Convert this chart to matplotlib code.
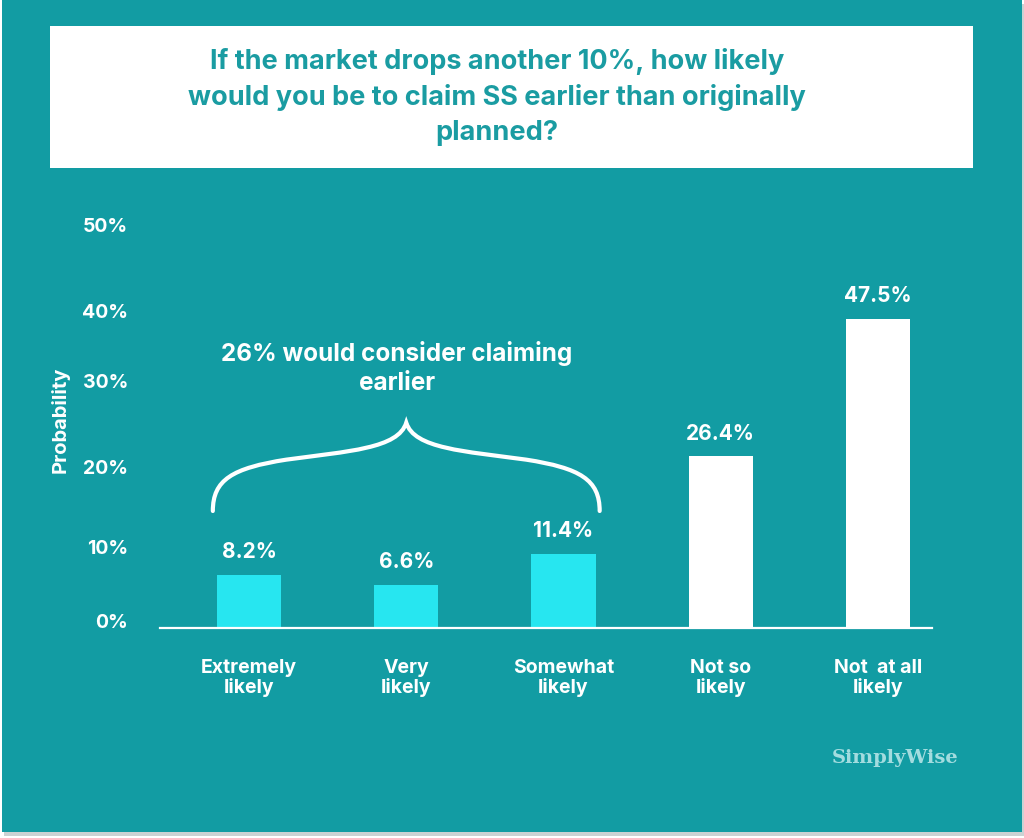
import matplotlib
matplotlib.use("Agg")
import matplotlib.pyplot as plt
from matplotlib.patches import Rectangle, PathPatch
from matplotlib.path import Path

# ---------------- data ----------------
categories = ["Extremely\nlikely", "Very\nlikely", "Somewhat\nlikely", "Not so\nlikely", "Not  at all\nlikely"]
values = [8.2, 6.6, 11.4, 26.4, 47.5]
value_labels = ["8.2%", "6.6%", "11.4%", "26.4%", "47.5%"]
bar_colors = ["#27E6F0", "#27E6F0", "#27E6F0", "#FFFFFF", "#FFFFFF"]
tick_labels = ["0%", "10%", "20%", "30%", "40%", "50%"]
tick_positions = [1.1, 12.5, 24.8, 38.0, 48.8, 62.0]   # where the labels sit in the picture
title = "If the market drops another 10%, how likely\nwould you be to claim SS earlier than originally\nplanned?"
brace_text = "26% would consider claiming\nearlier"

TEAL = "#129CA3"
TITLE_COL = "#1A9CA2"
W, H = 1024, 838

plt.rcParams['font.family'] = ['Inter', 'DejaVu Sans']
fig = plt.figure(figsize=(W / 100, H / 100), dpi=100, facecolor="white")

# background panel with slight shadow
fig.patches.append(Rectangle((4 / W, 1 - 836 / H), 1020 / W, 832 / H, transform=fig.transFigure,
                             facecolor="#9aa7a8", edgecolor="none", alpha=0.5, zorder=-3))
fig.patches.append(Rectangle((2 / W, 1 - 832 / H), 1020 / W, 832 / H, transform=fig.transFigure,
                             facecolor=TEAL, edgecolor="none", zorder=-2))

# axes placement (pixels)
x0, x1 = 160, 932
y_base, y_top = 628, 200
ax = fig.add_axes([x0 / W, 1 - y_base / H, (x1 - x0) / W, (y_base - y_top) / H])
ax.set_facecolor("none")
spacing = 157.25
ax.set_xlim(-(249 - x0) / spacing, 4 + (x1 - 878) / spacing)
ppp = 6.5  # pixels per percent
ax.set_ylim(0, (y_base - y_top) / ppp)

xs = list(range(len(values)))
ax.bar(xs, values, width=0.41, color=bar_colors, zorder=2)
for x, v, lab in zip(xs, values, value_labels):
    ax.text(x, v + 3.5, lab, ha="center", va="center", color="white",
            fontsize=15, fontweight="bold")

for s in ["top", "right", "left"]:
    ax.spines[s].set_visible(False)
ax.spines["bottom"].set_color("white")
ax.spines["bottom"].set_linewidth(1.6)
ax.set_yticks(tick_positions)
ax.set_yticklabels(tick_labels)
ax.tick_params(axis="y", length=0, pad=23, labelcolor="white", labelsize=14)
for t in ax.get_yticklabels():
    t.set_fontweight("bold")
ax.set_xticks(xs)
ax.set_xticklabels(categories, linespacing=1.1)
ax.tick_params(axis="x", length=0, pad=22, labelcolor="white", labelsize=14)
for t in ax.get_xticklabels():
    t.set_fontweight("bold")
ax.set_ylabel("Probability", color="white", fontsize=14.5, fontweight="bold", labelpad=0)
ax.yaxis.set_label_coords((70 - x0) / (x1 - x0), (y_base - 420) / (y_base - y_top))

# curly brace over the first three bars
xl, xr = -0.23, 2.23
xm = (xl + xr) / 2
yb, yt = 18.0, 31.6
hw = (xr - xl) / 2
def bl(f):
    return xl + f * hw
def br(f):
    return xr - f * hw
verts = [
    (xl, yb), (xl, 22.8), (bl(0.10), 24.6), (bl(0.38), 25.9),
    (bl(0.70), 27.2), (bl(0.96), 27.6), (xm, yt),
    (br(0.96), 27.6), (br(0.70), 27.2), (br(0.38), 25.9),
    (br(0.10), 24.6), (xr, 22.8), (xr, yb),
]
codes = [Path.MOVETO] + [Path.CURVE4] * 12
ax.add_patch(PathPatch(Path(verts, codes), facecolor="none", edgecolor="white", lw=3,
                       capstyle="round", zorder=3))
ax.text(xm - 0.06, 40.0, brace_text, ha="center", va="center", color="white",
        fontsize=17.5, fontweight="bold", linespacing=1.3)

# title box
fig.patches.append(Rectangle((50 / W, 1 - 168 / H), 923 / W, 142 / H, transform=fig.transFigure,
                             facecolor="white", edgecolor="none", zorder=5))
fig.text(497 / W, 1 - 97 / H, title, ha="center", va="center", color=TITLE_COL,
         fontsize=19.5, fontweight="bold", linespacing=1.45, zorder=6)

# brand
fig.text(895 / W, 1 - 758 / H, "SimplyWise", ha="center", va="center", color="#A3DCDF",
         fontsize=14, fontweight="bold", family=["DejaVu Serif"])

fig.savefig("out.png", dpi=100, facecolor="white")
